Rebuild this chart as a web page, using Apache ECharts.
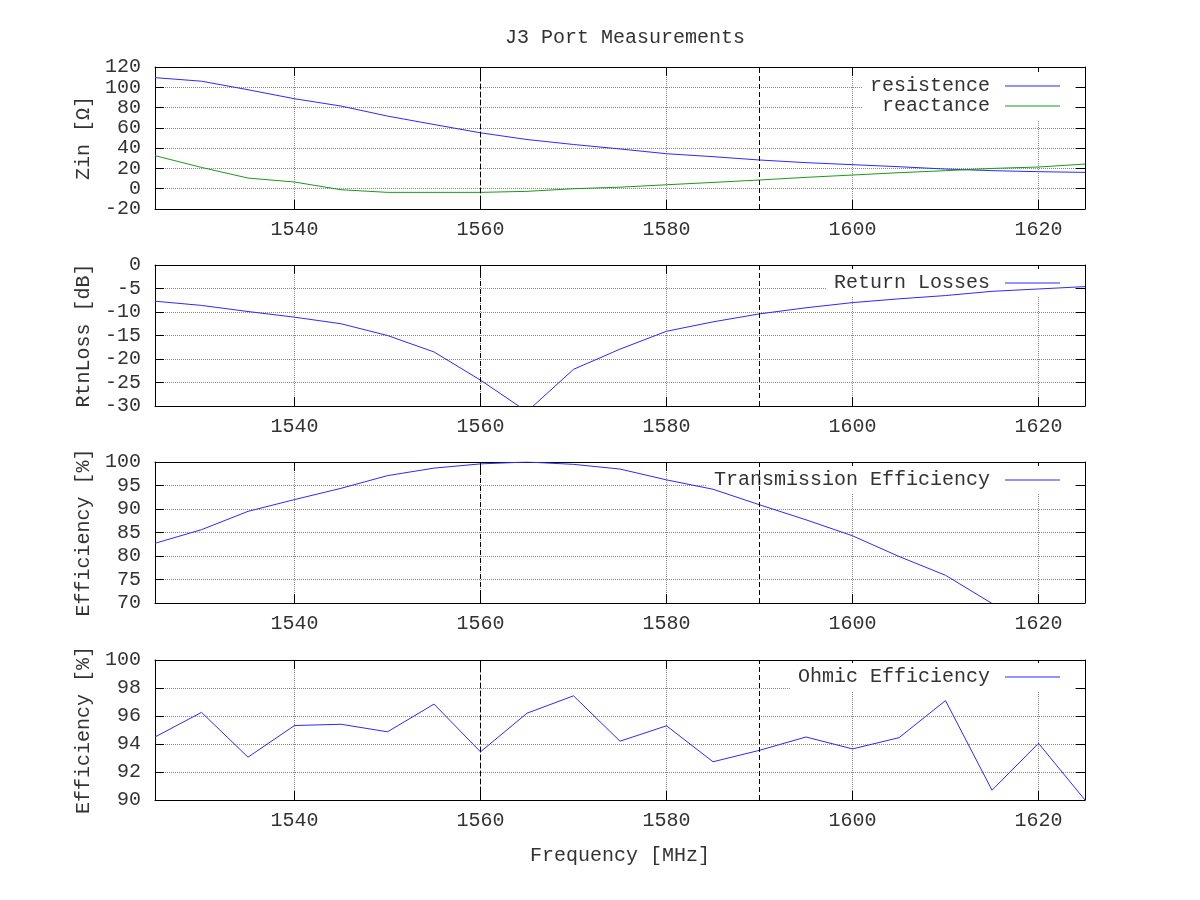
<!DOCTYPE html>
<html>
<head>
<meta charset="utf-8">
<title>J3 Port Measurements</title>
<script src="https://cdn.jsdelivr.net/npm/echarts@6/dist/echarts.min.js"></script>
<style>
html,body{margin:0;padding:0;background:#fff;}
#main{width:1200px;height:900px;}
</style>
</head>
<body>
<div id="main"></div>
<script>
//频率 (MHz)
var freq=[1525,1530,1535,1540,1545,1550,1555,1560,1565,1570,1575,1580,1585,1590,1595,1600,1605,1610,1615,1620,1625];
//Zin
var resistence=[109.5,106,97.6,88.7,81.5,71.6,63.3,55.1,48.5,43.6,39.2,34.5,31.6,28.3,25.7,23.7,21.7,19.4,17.8,16.8,16.1];
var reactance=[32.6,21,10.5,6.6,-1,-3.6,-3.6,-3.6,-2.6,0,1.5,3.9,6.2,8.6,11.2,13.5,15.8,17.8,20,21.4,24.3];
//回波损耗
var returnLosses=[-7.7,-8.6,-9.9,-11.1,-12.5,-15.0,-18.5,-24.5,-31.2,-22.2,-17.9,-14.1,-12.1,-10.4,-9.1,-8.0,-7.2,-6.5,-5.6,-5.1,-4.6];
//效率
var transEff=[82.7,85.6,89.5,92.0,94.4,97.1,98.7,99.6,100,99.5,98.5,96.2,94.2,90.9,87.7,84.3,79.9,75.9,69.9,64,58];
var ohmicEff=[94.5,96.26,93.06,95.32,95.41,94.87,96.85,93.44,96.2,97.44,94.2,95.3,92.73,93.55,94.5,93.65,94.45,97.1,90.7,94.05,90.0];
//刻度
var xTicks=[1540,1560,1580,1600,1620];
var markFreq=[1560,1590];

var FONT='Liberation Mono';
var txt={fontFamily:FONT,fontSize:20,color:'#333'};

//每个子图的位置
var grids=[
	{left:155,right:115,top:67,height:142},
	{left:155,right:115,top:265,height:141},
	{left:155,right:115,top:462,height:141},
	{left:155,right:115,top:660,height:140}
];
var yRanges=[[-20,120,20],[-30,0,5],[70,100,5],[90,100,2]];
var yNames=['Zin [Ω]','RtnLoss [dB]','Efficiency [%]','Efficiency [%]'];
var legendTops=[72,269,466,663];

function pairs(arr){
	var out=[];
	for(var i=0;i<freq.length;i++){
		out.push([freq[i],arr[i]]);
	}
	return out;
}

var xAxis=[],yAxis=[],legend=[],series=[];
for(var g=0;g<4;g++){
	//下方x轴
	xAxis.push({
		type:'value',gridIndex:g,min:1525,max:1625,
		name:g==3?'Frequency [MHz]':'',nameLocation:'middle',nameGap:46,
		nameTextStyle:txt,
		axisLine:{show:true,onZero:false,lineStyle:{color:'#000',width:1}},
		axisTick:{show:true,inside:true,length:9,customValues:xTicks,lineStyle:{color:'#000'}},
		axisLabel:Object.assign({margin:11,customValues:xTicks,formatter:function(v){return String(v);}},txt),
		splitLine:{show:true,lineStyle:{type:'dotted',color:'#888',width:1}}
	});
	//上方镜像刻度
	xAxis.push({
		type:'value',gridIndex:g,min:1525,max:1625,position:'top',
		axisLine:{show:true,onZero:false,lineStyle:{color:'#000',width:1}},
		axisTick:{show:true,inside:true,length:9,customValues:xTicks,lineStyle:{color:'#000'}},
		axisLabel:{show:false},
		splitLine:{show:false}
	});
	var r=yRanges[g];
	yAxis.push({
		type:'value',gridIndex:g,min:r[0],max:r[1],interval:r[2],
		name:yNames[g],nameLocation:'middle',nameGap:59,nameRotate:90,
		nameTextStyle:txt,
		axisLine:{show:true,onZero:false,lineStyle:{color:'#000',width:1}},
		axisTick:{show:true,inside:true,length:9,lineStyle:{color:'#000'}},
		axisLabel:Object.assign({margin:14},txt),
		splitLine:{show:true,lineStyle:{type:'dotted',color:'#888',width:1}}
	});
	yAxis.push({
		type:'value',gridIndex:g,min:r[0],max:r[1],interval:r[2],position:'right',
		axisLine:{show:true,onZero:false,lineStyle:{color:'#000',width:1}},
		axisTick:{show:true,inside:true,length:9,lineStyle:{color:'#000'}},
		axisLabel:{show:false},
		splitLine:{show:false}
	});
}

function makeSeries(name,arr,g,color){
	return {
		name:name,type:'line',xAxisIndex:g*2,yAxisIndex:g*2,
		data:pairs(arr),symbol:'none',clip:true,
		lineStyle:{color:color,width:1},itemStyle:{color:color},
		emphasis:{disabled:true},z:3
	};
}

series.push(makeSeries('resistence',resistence,0,'#2a2aff'));
series.push(makeSeries('reactance',reactance,0,'#1a9a1a'));
series.push(makeSeries('Return Losses',returnLosses,1,'#2a2aff'));
series.push(makeSeries('Transmission Efficiency',transEff,2,'#2a2aff'));
series.push(makeSeries('Ohmic Efficiency',ohmicEff,3,'#2a2aff'));

//1560和1590的虚线
var markData=[];
for(var m=0;m<markFreq.length;m++){markData.push({xAxis:markFreq[m]});}
var firstOfGrid=[0,2,3,4];
for(var k=0;k<firstOfGrid.length;k++){
	series[firstOfGrid[k]].markLine={
		silent:true,symbol:'none',label:{show:false},animation:false,
		lineStyle:{color:'#000',type:[5,3],width:1},
		data:markData
	};
}

var legendData=[['resistence','reactance'],['Return Losses'],['Transmission Efficiency'],['Ohmic Efficiency']];
for(var l=0;l<4;l++){
	legend.push({
		data:legendData[l],orient:'vertical',align:'right',
		right:125,top:legendTops[l],padding:[4,15,4,8],
		icon:'rect',itemWidth:55,itemHeight:1,itemGap:0,
		backgroundColor:'#fff',z:1,selectedMode:false,
		textStyle:Object.assign({lineHeight:20,padding:[0,10,0,0]},txt)
	});
}

var chart=echarts.init(document.getElementById('main'));
chart.setOption({
	backgroundColor:'#fff',
	animation:false,
	title:{text:'J3 Port Measurements',left:620,textAlign:'center',top:23,
		textStyle:{fontFamily:FONT,fontSize:20,fontWeight:'normal',color:'#333'}},
	grid:grids,
	xAxis:xAxis,
	yAxis:yAxis,
	legend:legend,
	series:series
});
</script>
</body>
</html>
